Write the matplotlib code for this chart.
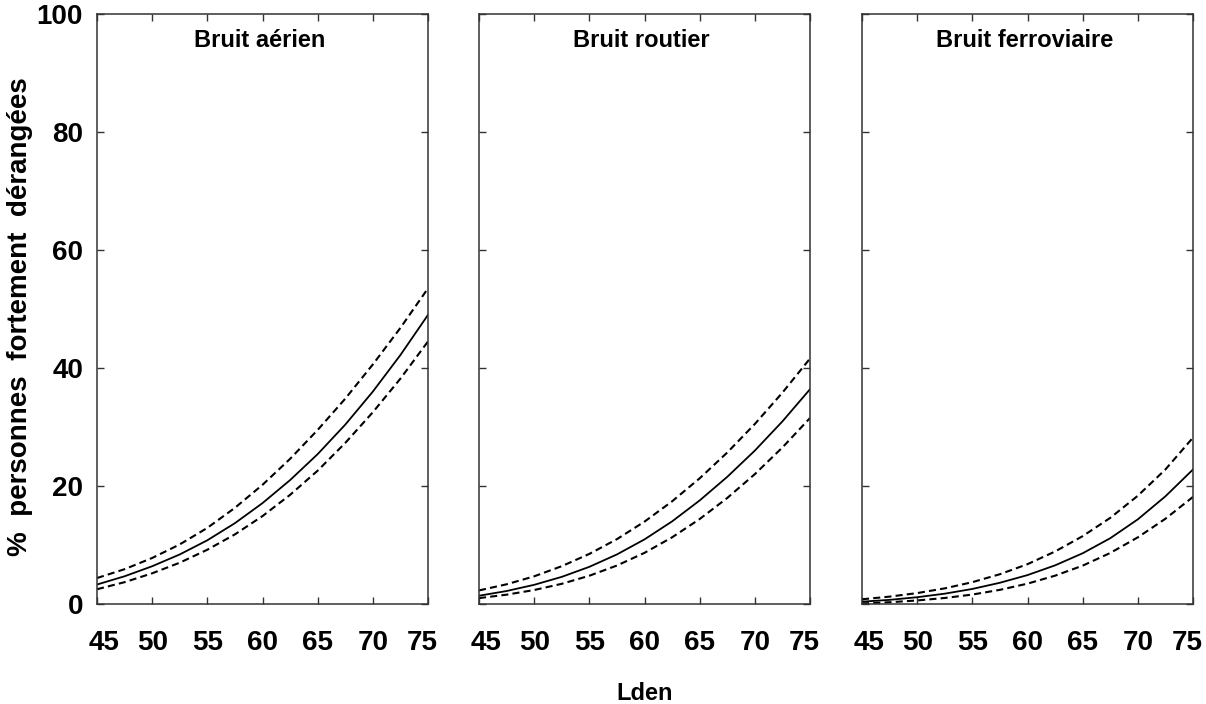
import matplotlib
matplotlib.use("Agg")
import matplotlib.pyplot as plt
import matplotlib.transforms as mtransforms

# Lden levels (dB) read along the x axis
lden = [45, 47.5, 50, 52.5, 55, 57.5, 60, 62.5, 65, 67.5, 70, 72.5, 75]

# % highly annoyed (central curve and dashed bounds)
air_mid = [3.3, 4.7, 6.4, 8.4, 10.8, 13.7, 17.1, 21.0, 25.4, 30.4, 36.0, 42.2, 49.0]
air_high = [4.4, 5.9, 7.8, 10.1, 12.9, 16.3, 20.2, 24.6, 29.5, 34.8, 40.6, 46.8, 53.5]
air_low = [2.5, 3.7, 5.2, 7.0, 9.2, 11.8, 14.9, 18.5, 22.6, 27.3, 32.5, 38.2, 44.5]

road_mid = [1.4, 2.2, 3.25, 4.6, 6.3, 8.4, 10.95, 14.0, 17.55, 21.55, 26.0, 30.95, 36.4]
road_high = [2.3, 3.34, 4.69, 6.41, 8.49, 10.99, 13.96, 17.4, 21.3, 25.67, 30.51, 35.82, 41.6]
road_low = [1.0, 1.58, 2.37, 3.42, 4.79, 6.52, 8.67, 11.3, 14.4, 17.97, 22.01, 26.53, 31.52]

rail_mid = [0.4, 0.7, 1.15, 1.75, 2.55, 3.6, 4.9, 6.55, 8.6, 11.15, 14.35, 18.25, 22.8]
rail_high = [0.8, 1.25, 1.85, 2.65, 3.7, 5.05, 6.75, 8.9, 11.5, 14.6, 18.35, 22.8, 28.2]
rail_low = [0.1, 0.3, 0.6, 1.02, 1.6, 2.4, 3.45, 4.8, 6.5, 8.65, 11.3, 14.45, 18.15]

titles = ["Bruit aérien", "Bruit routier", "Bruit ferroviaire"]
x_ticks = [45, 50, 55, 60, 65, 70, 75]
y_ticks = [0, 20, 40, 60, 80, 100]

plt.rcParams["font.family"] = ["Liberation Sans", "DejaVu Sans"]
plt.rcParams["font.weight"] = "bold"

fig = plt.figure(figsize=(12.06, 7.04), dpi=100)

lefts = [97, 479, 862]
series = [(air_mid, air_high, air_low),
          (road_mid, road_high, road_low),
          (rail_mid, rail_high, rail_low)]

for i, (left, (mid, high, low)) in enumerate(zip(lefts, series)):
    ax = fig.add_axes([left / 1206, 1 - 604 / 704, 331 / 1206, 590 / 704])
    ax.plot(lden, mid, color="black", lw=1.3)
    ax.plot(lden, high, color="black", lw=1.5, dashes=(3.4, 2.0))
    ax.plot(lden, low, color="black", lw=1.5, dashes=(3.4, 2.0))
    ax.set_xlim(45, 75)
    ax.set_ylim(0, 100)
    ax.set_xticks(x_ticks)
    ax.set_yticks(y_ticks)
    ax.tick_params(direction="in", top=True, right=True, length=5, width=1.0,
                   color="#333333")
    ax.tick_params(axis="x", labelsize=20, pad=19)
    ax.tick_params(axis="y", labelsize=20, pad=10)
    if i > 0:
        ax.set_yticklabels([])
    for s in ax.spines.values():
        s.set_linewidth(1.1)
        s.set_color("#333333")
    # end labels sit a little inside the panel, as in the original figure
    labels = ax.get_xticklabels()
    labels[0].set_transform(labels[0].get_transform() +
                            mtransforms.ScaledTranslation(5 / 72, 0, fig.dpi_scale_trans))
    labels[-1].set_transform(labels[-1].get_transform() +
                             mtransforms.ScaledTranslation(-4 / 72, 0, fig.dpi_scale_trans))
    ax.text(0.49, 0.955, titles[i], transform=ax.transAxes, ha="center",
            va="center", fontsize=17, fontweight="bold")

fig.text(20 / 1206, 1 - 317 / 704, "%  personnes  fortement  dérangées",
         rotation=90, ha="center", va="center", fontsize=20, fontweight="bold")
fig.text(645 / 1206, 1 - 693 / 704, "Lden", ha="center", va="center",
         fontsize=17, fontweight="bold")

fig.savefig("out.png", dpi=100)
